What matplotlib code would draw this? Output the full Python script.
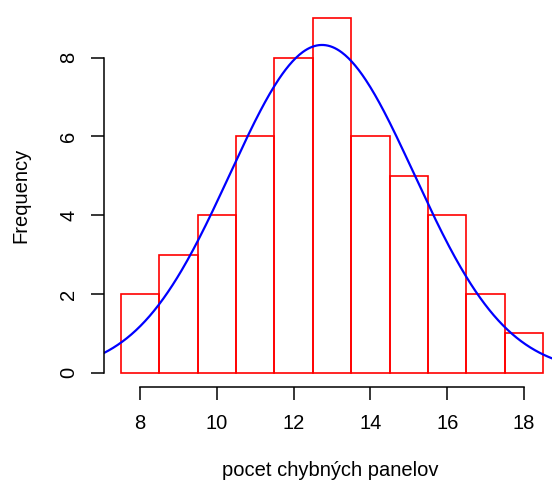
import numpy as np
import matplotlib
matplotlib.use("Agg")
from matplotlib import pyplot as plt

# histogram data: bin centres and counts
bin_centers = [8, 9, 10, 11, 12, 13, 14, 15, 16, 17, 18]
counts = [2, 3, 4, 6, 8, 9, 6, 5, 4, 2, 1]
x_ticks = [8, 10, 12, 14, 16, 18]
y_ticks = [0, 2, 4, 6, 8]


def main():
    plt.rcParams["font.family"] = ["Liberation Sans", "DejaVu Sans"]
    fs = 14.5

    # raw values rebuilt from the counts, for the fitted normal curve
    values = np.repeat(bin_centers, counts)
    n = len(values)
    mean = values.mean()
    sd = values.std(ddof=1)

    figure = plt.figure(figsize=(5.52, 4.82), dpi=100)
    left, width = 103.9, 456.2
    axes = figure.add_axes([left / 552, 95 / 482, width / 552, 383 / 482])

    axes.bar(bin_centers, counts, width=1.0, fill=False, edgecolor="red", linewidth=1.2)

    xs = np.linspace(7.06, 18.94, 400)
    ys = n * 1.0 * np.exp(-0.5 * ((xs - mean) / sd) ** 2) / (sd * np.sqrt(2 * np.pi))
    axes.plot(xs, ys, color="blue", linewidth=1.6)

    axes.set_xlim(7.06, 18.94)
    axes.set_ylim(-0.36, 9.36)

    axes.spines["top"].set_visible(False)
    axes.spines["right"].set_visible(False)
    axes.spines["left"].set_bounds(0, 8)
    axes.spines["bottom"].set_bounds(8, 18)
    axes.spines["left"].set_linewidth(1.1)
    axes.spines["bottom"].set_linewidth(1.1)

    axes.set_xticks(x_ticks)
    axes.set_yticks(y_ticks)
    axes.tick_params(axis="both", length=9.5, width=1.1, labelsize=fs)
    axes.tick_params(axis="x", pad=10)
    axes.tick_params(axis="y", labelrotation=90, pad=9)
    for label in axes.get_yticklabels():
        label.set_verticalalignment("center")

    axes.set_xlabel("pocet chybných panelov", fontsize=fs)
    axes.set_ylabel("Frequency", fontsize=fs)
    axes.xaxis.set_label_coords((330 - left) / width, -(471 - 387) / 383)
    axes.yaxis.set_label_coords(-(left - 21) / width, 0.5)
    axes.xaxis.label.set_verticalalignment("center")
    axes.yaxis.label.set_verticalalignment("center")

    figure.savefig("out.png", dpi=100)


if __name__ == "__main__":
    main()
